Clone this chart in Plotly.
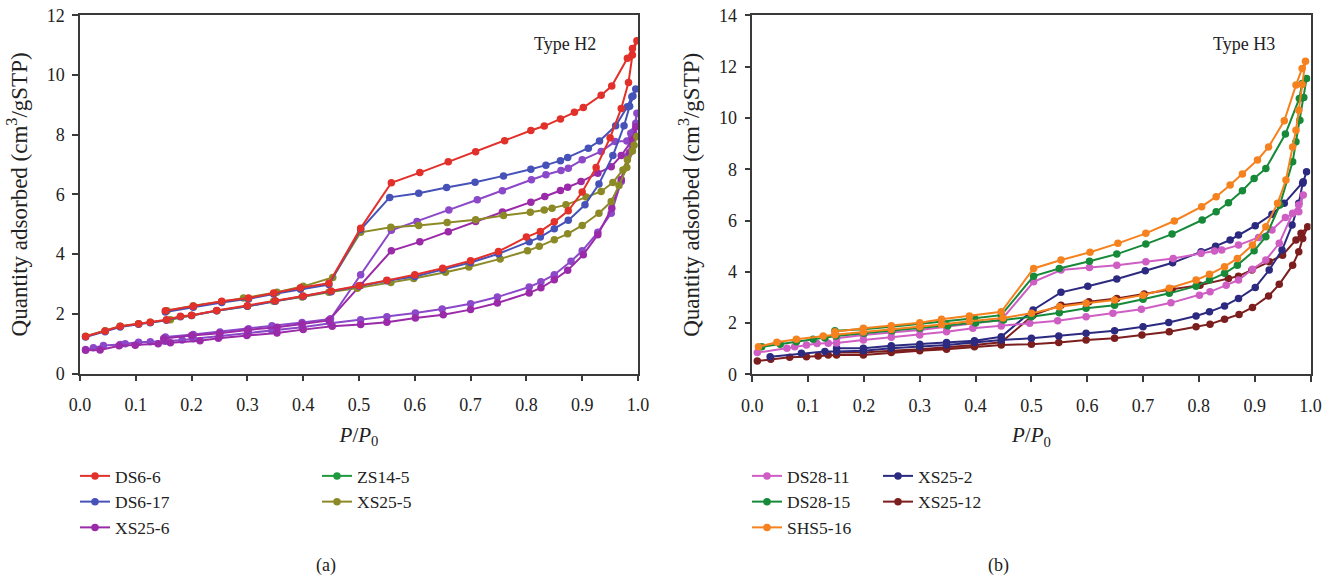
import plotly.graph_objects as go

FONT = "Liberation Serif"

# ---------------- Panel (a): Type H2 ----------------
ds6_6_ads_p = [0.01,0.045,0.072,0.105,0.126,0.155,0.18,0.2,0.245,0.3,0.35,0.4,0.45,0.5,0.55,0.6,0.65,0.7,0.75,0.8,0.825,0.85,0.875,0.9,0.925,0.95,0.97,0.983,0.99,0.998]
ds6_6_ads_q = [1.24,1.42,1.58,1.67,1.72,1.8,1.92,1.95,2.11,2.27,2.44,2.6,2.76,2.94,3.12,3.31,3.53,3.78,4.09,4.57,4.76,5.08,5.45,6.08,6.9,7.9,8.88,9.75,10.67,11.15]
ds6_6_des_p = [0.99,0.981,0.953,0.934,0.902,0.886,0.861,0.832,0.808,0.761,0.709,0.66,0.609,0.558,0.503,0.446,0.395,0.347,0.302,0.254,0.203,0.153]
ds6_6_des_q = [10.89,10.56,9.63,9.32,8.91,8.75,8.53,8.29,8.14,7.8,7.43,7.09,6.73,6.39,4.87,3.02,2.87,2.7,2.53,2.42,2.25,2.1]

ds6_17_ads_p = [0.01,0.045,0.072,0.105,0.126,0.155,0.18,0.2,0.245,0.3,0.35,0.4,0.45,0.5,0.55,0.6,0.65,0.7,0.75,0.805,0.825,0.85,0.875,0.905,0.93,0.955,0.975,0.985,0.991,0.996]
ds6_17_ads_q = [1.22,1.4,1.56,1.65,1.7,1.78,1.9,1.94,2.1,2.25,2.42,2.58,2.74,2.92,3.11,3.25,3.48,3.72,4.01,4.41,4.57,4.85,5.13,5.65,6.35,7.3,8.3,8.95,9.3,9.53]
ds6_17_des_p = [0.989,0.981,0.96,0.931,0.911,0.874,0.861,0.835,0.808,0.759,0.708,0.657,0.607,0.555,0.503,0.446,0.395,0.347,0.302,0.254,0.203,0.153]
ds6_17_des_q = [9.27,8.94,8.3,7.79,7.55,7.24,7.13,6.98,6.84,6.62,6.41,6.23,6.04,5.9,4.82,2.98,2.82,2.66,2.5,2.38,2.22,2.06]

xs25_5_ads_p = [0.01,0.045,0.072,0.105,0.126,0.162,0.2,0.245,0.3,0.347,0.398,0.446,0.497,0.557,0.598,0.655,0.697,0.753,0.802,0.823,0.85,0.874,0.9,0.93,0.952,0.966,0.98,0.99,0.998]
xs25_5_ads_q = [1.25,1.43,1.58,1.67,1.72,1.8,1.94,2.1,2.25,2.42,2.56,2.72,2.86,3.05,3.18,3.39,3.57,3.84,4.11,4.26,4.48,4.68,4.96,5.37,5.76,6.3,6.9,7.45,7.94]
xs25_5_des_p = [0.993,0.981,0.973,0.955,0.934,0.907,0.871,0.846,0.832,0.807,0.759,0.709,0.658,0.607,0.557,0.503,0.453,0.4,0.353,0.293,0.254,0.203,0.156]
xs25_5_des_q = [7.65,7.16,6.82,6.4,6.1,5.91,5.65,5.54,5.48,5.4,5.29,5.15,5.06,4.96,4.9,4.73,3.22,2.92,2.72,2.53,2.4,2.27,2.1]

xs25_6_ads_p = [0.01,0.036,0.07,0.099,0.14,0.162,0.215,0.248,0.299,0.353,0.4,0.452,0.503,0.55,0.601,0.651,0.7,0.748,0.805,0.826,0.85,0.874,0.902,0.928,0.953,0.97,0.985,0.996]
xs25_6_ads_q = [0.78,0.79,0.93,0.95,1.0,1.03,1.1,1.18,1.27,1.36,1.47,1.58,1.64,1.72,1.86,1.97,2.14,2.36,2.7,2.87,3.14,3.46,3.98,4.65,5.54,6.5,7.4,8.27]
xs25_6_des_p = [0.99,0.97,0.952,0.928,0.898,0.874,0.861,0.833,0.808,0.757,0.709,0.66,0.609,0.558,0.503,0.446,0.398,0.353,0.3,0.25,0.2,0.15]
xs25_6_des_q = [7.83,7.3,6.93,6.71,6.43,6.24,6.13,5.93,5.74,5.41,5.09,4.75,4.41,4.11,2.95,1.78,1.66,1.55,1.46,1.35,1.27,1.17]

# second purple loop drawn in panel (a)
lp_ads_p = [0.01,0.024,0.042,0.072,0.081,0.105,0.126,0.153,0.183,0.203,0.251,0.302,0.344,0.398,0.449,0.503,0.55,0.601,0.649,0.7,0.748,0.805,0.826,0.85,0.88,0.9,0.928,0.952,0.97,0.982,0.992,0.998]
lp_ads_q = [0.8,0.86,0.94,0.97,1.0,1.05,1.06,1.08,1.12,1.16,1.25,1.35,1.44,1.55,1.68,1.8,1.9,2.03,2.16,2.34,2.56,2.9,3.07,3.31,3.76,4.11,4.73,5.37,6.43,7.3,8.1,8.72]
lp_des_p = [0.996,0.987,0.98,0.959,0.934,0.9,0.875,0.862,0.835,0.809,0.757,0.712,0.661,0.604,0.558,0.503,0.449,0.398,0.344,0.302,0.251,0.203,0.153]
lp_des_q = [8.38,8.05,7.79,7.77,7.44,7.16,6.88,6.8,6.66,6.49,6.12,5.82,5.48,5.09,4.8,3.31,1.83,1.71,1.6,1.5,1.39,1.31,1.22]

# ---------------- Panel (b): Type H3 ----------------
shs5_16_ads_p = [0.011,0.044,0.079,0.127,0.148,0.199,0.249,0.3,0.339,0.389,0.449,0.5,0.55,0.598,0.649,0.7,0.747,0.795,0.819,0.846,0.869,0.896,0.92,0.941,0.956,0.968,0.974,0.979,0.985,0.991]
shs5_16_ads_q = [1.08,1.25,1.37,1.5,1.55,1.65,1.75,1.86,1.95,2.07,2.2,2.38,2.64,2.77,2.9,3.09,3.36,3.68,3.9,4.2,4.52,5.04,5.76,6.67,7.58,8.87,9.52,10.3,11.3,12.21]
shs5_16_des_p = [0.985,0.974,0.953,0.925,0.905,0.878,0.856,0.831,0.805,0.756,0.705,0.655,0.605,0.553,0.504,0.446,0.389,0.339,0.3,0.249,0.199,0.148]
shs5_16_des_q = [11.93,11.28,9.89,8.87,8.36,7.81,7.38,6.93,6.54,5.98,5.5,5.11,4.76,4.46,4.13,2.44,2.28,2.15,2.01,1.9,1.8,1.66]

ds28_15_ads_p = [0.017,0.05,0.079,0.109,0.13,0.15,0.2,0.25,0.3,0.35,0.4,0.45,0.5,0.55,0.598,0.649,0.7,0.747,0.795,0.819,0.846,0.869,0.899,0.92,0.945,0.968,0.974,0.981,0.988,0.993]
ds28_15_ads_q = [1.08,1.18,1.27,1.37,1.42,1.5,1.6,1.7,1.8,1.9,2.0,2.12,2.25,2.4,2.58,2.7,2.93,3.16,3.44,3.68,3.94,4.26,4.82,5.37,6.6,8.29,9.07,9.91,10.8,11.54]
ds28_15_des_p = [0.985,0.98,0.955,0.92,0.899,0.878,0.853,0.831,0.806,0.752,0.705,0.653,0.604,0.55,0.504,0.446,0.398,0.339,0.3,0.249,0.199,0.148]
ds28_15_des_q = [11.34,10.76,9.37,8.03,7.64,7.16,6.69,6.34,6.02,5.47,5.08,4.69,4.41,4.13,3.83,2.31,2.19,2.05,1.96,1.86,1.76,1.7]

ds28_11_ads_p = [0.009,0.062,0.076,0.097,0.116,0.136,0.151,0.199,0.249,0.3,0.348,0.395,0.446,0.497,0.547,0.598,0.646,0.697,0.75,0.801,0.82,0.849,0.871,0.896,0.92,0.944,0.968,0.979,0.987]
ds28_11_ads_q = [0.85,1.02,1.08,1.15,1.2,1.21,1.22,1.34,1.45,1.54,1.66,1.8,1.89,1.99,2.09,2.25,2.38,2.54,2.79,3.09,3.22,3.48,3.68,4.1,4.46,5.11,6.28,6.6,6.99]
ds28_11_des_p = [0.979,0.955,0.931,0.907,0.871,0.841,0.828,0.804,0.754,0.705,0.653,0.604,0.553,0.504,0.446,0.398,0.348,0.3,0.249,0.199,0.151]
ds28_11_des_q = [6.34,6.12,5.63,5.34,5.04,4.85,4.81,4.72,4.52,4.39,4.26,4.17,4.07,3.61,2.12,1.99,1.86,1.73,1.63,1.54,1.41]

xs25_2_ads_p = [0.032,0.088,0.13,0.151,0.199,0.249,0.3,0.348,0.398,0.446,0.5,0.549,0.598,0.649,0.7,0.746,0.795,0.819,0.846,0.871,0.901,0.926,0.949,0.967,0.979,0.986,0.993]
xs25_2_ads_q = [0.69,0.82,0.89,0.89,0.92,1.02,1.08,1.15,1.24,1.34,1.41,1.5,1.6,1.7,1.86,2.02,2.28,2.44,2.67,2.96,3.39,4.07,4.85,5.82,6.67,7.45,7.9]
xs25_2_des_p = [0.987,0.953,0.931,0.901,0.871,0.856,0.83,0.804,0.753,0.704,0.653,0.601,0.553,0.503,0.446,0.398,0.348,0.3,0.249,0.199,0.151]
xs25_2_des_q = [7.51,6.67,6.24,5.8,5.43,5.24,5.0,4.78,4.35,4.04,3.72,3.44,3.2,2.51,1.47,1.31,1.24,1.18,1.12,1.02,1.02]

xs25_12_ads_p = [0.009,0.033,0.067,0.097,0.118,0.136,0.151,0.199,0.249,0.3,0.348,0.398,0.446,0.5,0.549,0.598,0.649,0.698,0.747,0.795,0.82,0.846,0.872,0.896,0.925,0.944,0.968,0.979,0.986,0.995]
xs25_12_ads_q = [0.52,0.59,0.67,0.69,0.72,0.76,0.76,0.76,0.85,0.92,0.98,1.08,1.15,1.18,1.24,1.34,1.41,1.54,1.66,1.86,1.96,2.15,2.34,2.61,3.06,3.51,4.26,4.78,5.3,5.76]
xs25_12_des_p = [0.983,0.974,0.95,0.926,0.895,0.871,0.853,0.802,0.752,0.702,0.653,0.603,0.553,0.503,0.446,0.398,0.348,0.3,0.249,0.199,0.151]
xs25_12_des_q = [5.5,5.24,4.65,4.39,4.07,3.83,3.74,3.48,3.32,3.13,2.96,2.83,2.7,2.31,1.25,1.15,1.06,0.98,0.92,0.85,0.85]

x_ticks = [0.0,0.1,0.2,0.3,0.4,0.5,0.6,0.7,0.8,0.9,1.0]
y_ticks_a = [0,2,4,6,8,10,12]
y_ticks_b = [0,2,4,6,8,10,12,14]

fig = go.Figure()

def add(name, color, ap, aq, dp, dq, xa, ya, leg, rank, showlegend=True):
    fig.add_trace(go.Scatter(
        x=ap + dp, y=aq + dq, name=name, mode="lines+markers",
        line=dict(color=color, width=2), marker=dict(color=color, size=7.5),
        xaxis=xa, yaxis=ya, legend=leg, legendrank=rank, showlegend=showlegend))

def legend_only(name, color, xa, ya, leg, rank):
    fig.add_trace(go.Scatter(
        x=[None], y=[None], name=name, mode="lines+markers",
        line=dict(color=color, width=2), marker=dict(color=color, size=7.5),
        xaxis=xa, yaxis=ya, legend=leg, legendrank=rank))

# panel a
add("XS25-6b", "#8b48c8", lp_ads_p, lp_ads_q, lp_des_p, lp_des_q, "x", "y", "legend", 9, showlegend=False)
add("XS25-6", "#9a2aa8", xs25_6_ads_p, xs25_6_ads_q, xs25_6_des_p, xs25_6_des_q, "x", "y", "legend", 3)
add("XS25-5", "#8c8a26", xs25_5_ads_p, xs25_5_ads_q, xs25_5_des_p, xs25_5_des_q, "x", "y", "legend2", 2)
add("DS6-17", "#4652b8", ds6_17_ads_p, ds6_17_ads_q, ds6_17_des_p, ds6_17_des_q, "x", "y", "legend", 2)
add("DS6-6", "#e2302a", ds6_6_ads_p, ds6_6_ads_q, ds6_6_des_p, ds6_6_des_q, "x", "y", "legend", 1)
legend_only("ZS14-5", "#1f9a3c", "x", "y", "legend2", 1)

# panel b
add("XS25-12", "#7d1e1e", xs25_12_ads_p, xs25_12_ads_q, xs25_12_des_p, xs25_12_des_q, "x2", "y2", "legend4", 2)
add("XS25-2", "#2c2a80", xs25_2_ads_p, xs25_2_ads_q, xs25_2_des_p, xs25_2_des_q, "x2", "y2", "legend4", 1)
add("DS28-11", "#cf5ec4", ds28_11_ads_p, ds28_11_ads_q, ds28_11_des_p, ds28_11_des_q, "x2", "y2", "legend3", 1)
add("DS28-15", "#178a3a", ds28_15_ads_p, ds28_15_ads_q, ds28_15_des_p, ds28_15_des_q, "x2", "y2", "legend3", 2)
add("SHS5-16", "#f5821f", shs5_16_ads_p, shs5_16_ads_q, shs5_16_des_p, shs5_16_des_q, "x2", "y2", "legend3", 3)

W, H = 1337, 578
def px(x): return x / W
def py(y): return 1 - y / H

axis_common = dict(showline=True, linecolor="#3a3a3a", linewidth=1.5, mirror=True,
                   ticks="outside", ticklen=6, tickwidth=1.5, tickcolor="#3a3a3a",
                   showgrid=False, zeroline=False, automargin=False,
                   tickfont=dict(family=FONT, size=18, color="#222"))

xtitle = dict(text="<i>P</i>/<i>P</i><sub>0</sub>", font=dict(family=FONT, size=21, color="#222"), standoff=13)
ytitle = dict(text="Quantity adsorbed (cm<sup>3</sup>/gSTP)", font=dict(family=FONT, size=23, color="#222"), standoff=13)

leg_common = dict(orientation="v", yanchor="top", xanchor="left", bgcolor="rgba(0,0,0,0)",
                  font=dict(family=FONT, size=17.5, color="#222"), traceorder="normal")

fig.update_layout(
    width=W, height=H, plot_bgcolor="white", paper_bgcolor="white",
    margin=dict(l=0, r=0, t=0, b=0, autoexpand=False),
    xaxis=dict(domain=[px(80), px(638)], range=[0, 1], tickvals=x_ticks, tickformat=".1f",
               anchor="y", title=xtitle, ticklabelstandoff=8, **axis_common),
    yaxis=dict(domain=[py(373.5), py(15.3)], range=[0, 12], tickvals=y_ticks_a,
               anchor="x", title=ytitle, ticklabelstandoff=4, **axis_common),
    xaxis2=dict(domain=[px(752.3), px(1310.5)], range=[0, 1], tickvals=x_ticks, tickformat=".1f",
                anchor="y2", title=xtitle, ticklabelstandoff=8, **axis_common),
    yaxis2=dict(domain=[py(374.4), py(15.3)], range=[0, 14], tickvals=y_ticks_b,
                anchor="x2", title=ytitle, ticklabelstandoff=4, **axis_common),
    legend=dict(x=px(75), y=py(458), **leg_common),
    legend2=dict(x=px(317), y=py(458), **leg_common),
    legend3=dict(x=px(747), y=py(458), **leg_common),
    legend4=dict(x=px(878), y=py(458), **leg_common),
    annotations=[
        dict(text="Type H2", xref="paper", yref="paper", x=px(598), y=py(44), xanchor="right", yanchor="middle",
             showarrow=False, font=dict(family=FONT, size=18, color="#222")),
        dict(text="Type H3", xref="paper", yref="paper", x=px(1277), y=py(44), xanchor="right", yanchor="middle",
             showarrow=False, font=dict(family=FONT, size=18, color="#222")),
        dict(text="(a)", xref="paper", yref="paper", x=px(326), y=py(565), xanchor="center", yanchor="middle",
             showarrow=False, font=dict(family=FONT, size=18, color="#222")),
        dict(text="(b)", xref="paper", yref="paper", x=px(998), y=py(565), xanchor="center", yanchor="middle",
             showarrow=False, font=dict(family=FONT, size=18, color="#222")),
    ],
)

fig.write_html("out.html")
